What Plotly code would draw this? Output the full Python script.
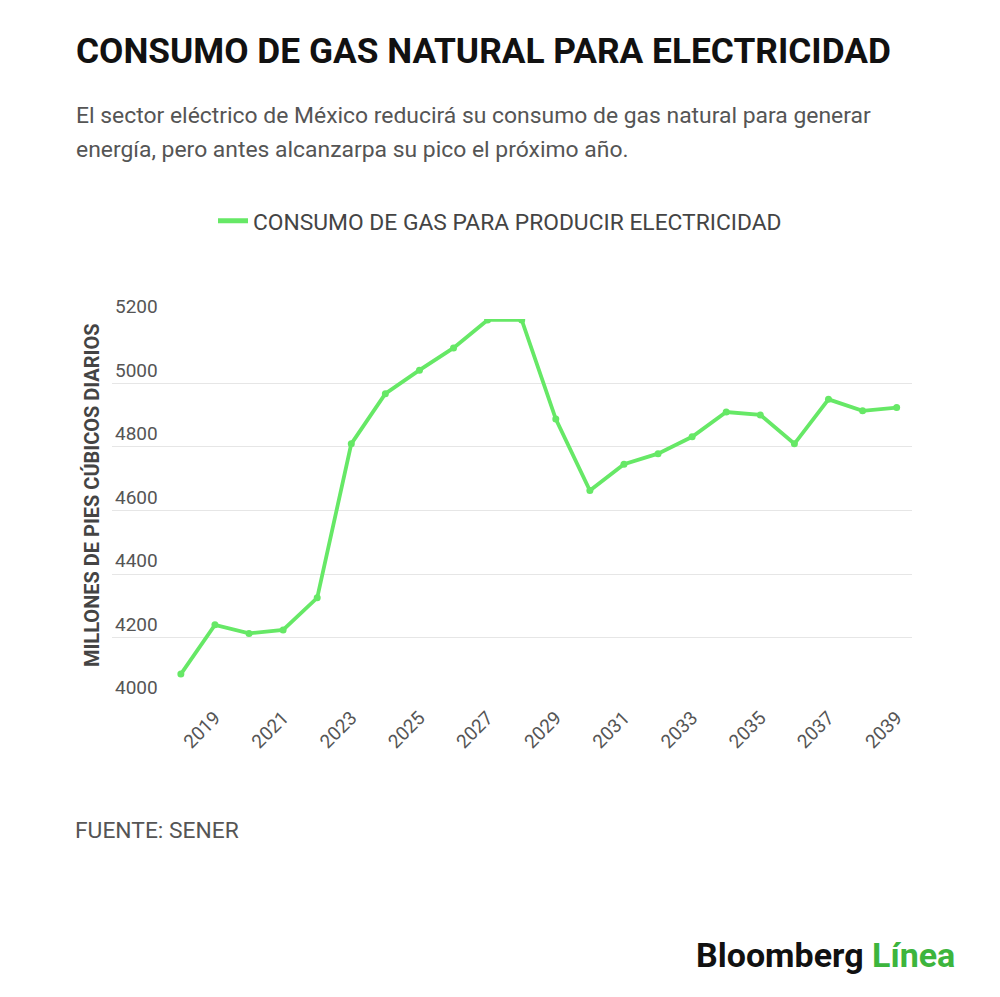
import plotly.graph_objects as go

# Consumo de gas para producir electricidad (millones de pies cubicos diarios)
years = list(range(2018, 2040))
consumo = [4085, 4240, 4213, 4224, 4325, 4810, 4968, 5042, 5112, 5200, 5200,
           4888, 4663, 4746, 4779, 4832, 4910, 4901, 4810, 4950, 4914, 4924]

tick_years = list(range(2019, 2040, 2))
y_ticks = [4000, 4200, 4400, 4600, 4800, 5000, 5200]

GREEN = "#66e866"
FONT = "Roboto"

# the page puts the figure 8px in from the corner
OFF = 8
W, H = 992, 989
# plot area in page pixels: x 112..912, y 319..702
L, R, T, B = 112, 912, 319, 702


def px(x):
    return (x - L) / (R - L)


def py(y):
    return (B - y) / (B - T)


line = go.Scatter(
    x=years, y=consumo,
    mode="lines+markers",
    showlegend=False,
    line=dict(color=GREEN, width=3.8),
    marker=dict(color=GREEN, size=7),
)

# legend entry shows only a short line, as in the original
legend_entry = go.Scatter(
    x=[None], y=[None], mode="lines",
    name="CONSUMO DE GAS PARA PRODUCIR ELECTRICIDAD",
    line=dict(color=GREEN, width=5),
)

fig = go.Figure(data=[line, legend_entry])

fig.update_layout(
    width=W, height=H,
    margin=dict(l=L - OFF, r=W - (R - OFF), t=T - OFF, b=H - (B - OFF), pad=0),
    paper_bgcolor="white", plot_bgcolor="white",
    font=dict(family=FONT, color="#555555"),
    showlegend=True,
    legend=dict(
        orientation="h", xref="container", yref="container",
        x=(500 - OFF) / W, xanchor="center",
        y=1 - (221 - OFF) / H, yanchor="middle",
        font=dict(size=22.8, color="#444444"),
    ),
    xaxis=dict(
        range=[2015.98, 2039.45],
        tickmode="array", tickvals=tick_years,
        ticktext=[str(y) for y in tick_years],
        tickangle=-45, tickfont=dict(size=19, color="#555555"),
        showgrid=False, zeroline=False, showline=False, ticks="",
    ),
    yaxis=dict(
        range=[3997, 5203],
        tickmode="array", tickvals=y_ticks,
        ticklabelposition="inside top", ticklabeloverflow="allow",
        tickfont=dict(size=19, color="#555555"),
        showgrid=True, gridcolor="#e6e6e6", gridwidth=1,
        zeroline=False, showline=False, ticks="",
    ),
)

annotations = [
    dict(text="<b>CONSUMO DE GAS NATURAL PARA ELECTRICIDAD</b>",
         x=px(74), y=py(51), xanchor="left", yanchor="middle",
         font=dict(size=35.3, color="#111111", family=FONT, weight=900)),
    dict(text="El sector eléctrico de México reducirá su consumo de gas natural para generar",
         x=px(74), y=py(115), xanchor="left", yanchor="middle",
         font=dict(size=22.9, color="#555555")),
    dict(text="energía, pero antes alcanzarpa su pico el próximo año.",
         x=px(74), y=py(150), xanchor="left", yanchor="middle",
         font=dict(size=22.9, color="#555555")),
    dict(text="<b>MILLONES DE PIES CÚBICOS DIARIOS</b>",
         x=px(92), y=py(495), xanchor="center", yanchor="middle",
         textangle=-90, font=dict(size=20, color="#444444")),
    dict(text="FUENTE: SENER",
         x=px(73), y=py(830), xanchor="left", yanchor="middle",
         font=dict(size=22.8, color="#555555")),
    dict(text='<b>Bloomberg</b> <b><span style="color:#3db53d">Línea</span></b>',
         x=px(957), y=py(955), xanchor="right", yanchor="middle",
         font=dict(size=34, color="#111111", family=FONT)),
]
for a in annotations:
    a.update(xref="paper", yref="paper", showarrow=False)
fig.update_layout(annotations=annotations)

fig.write_html("out.html")
